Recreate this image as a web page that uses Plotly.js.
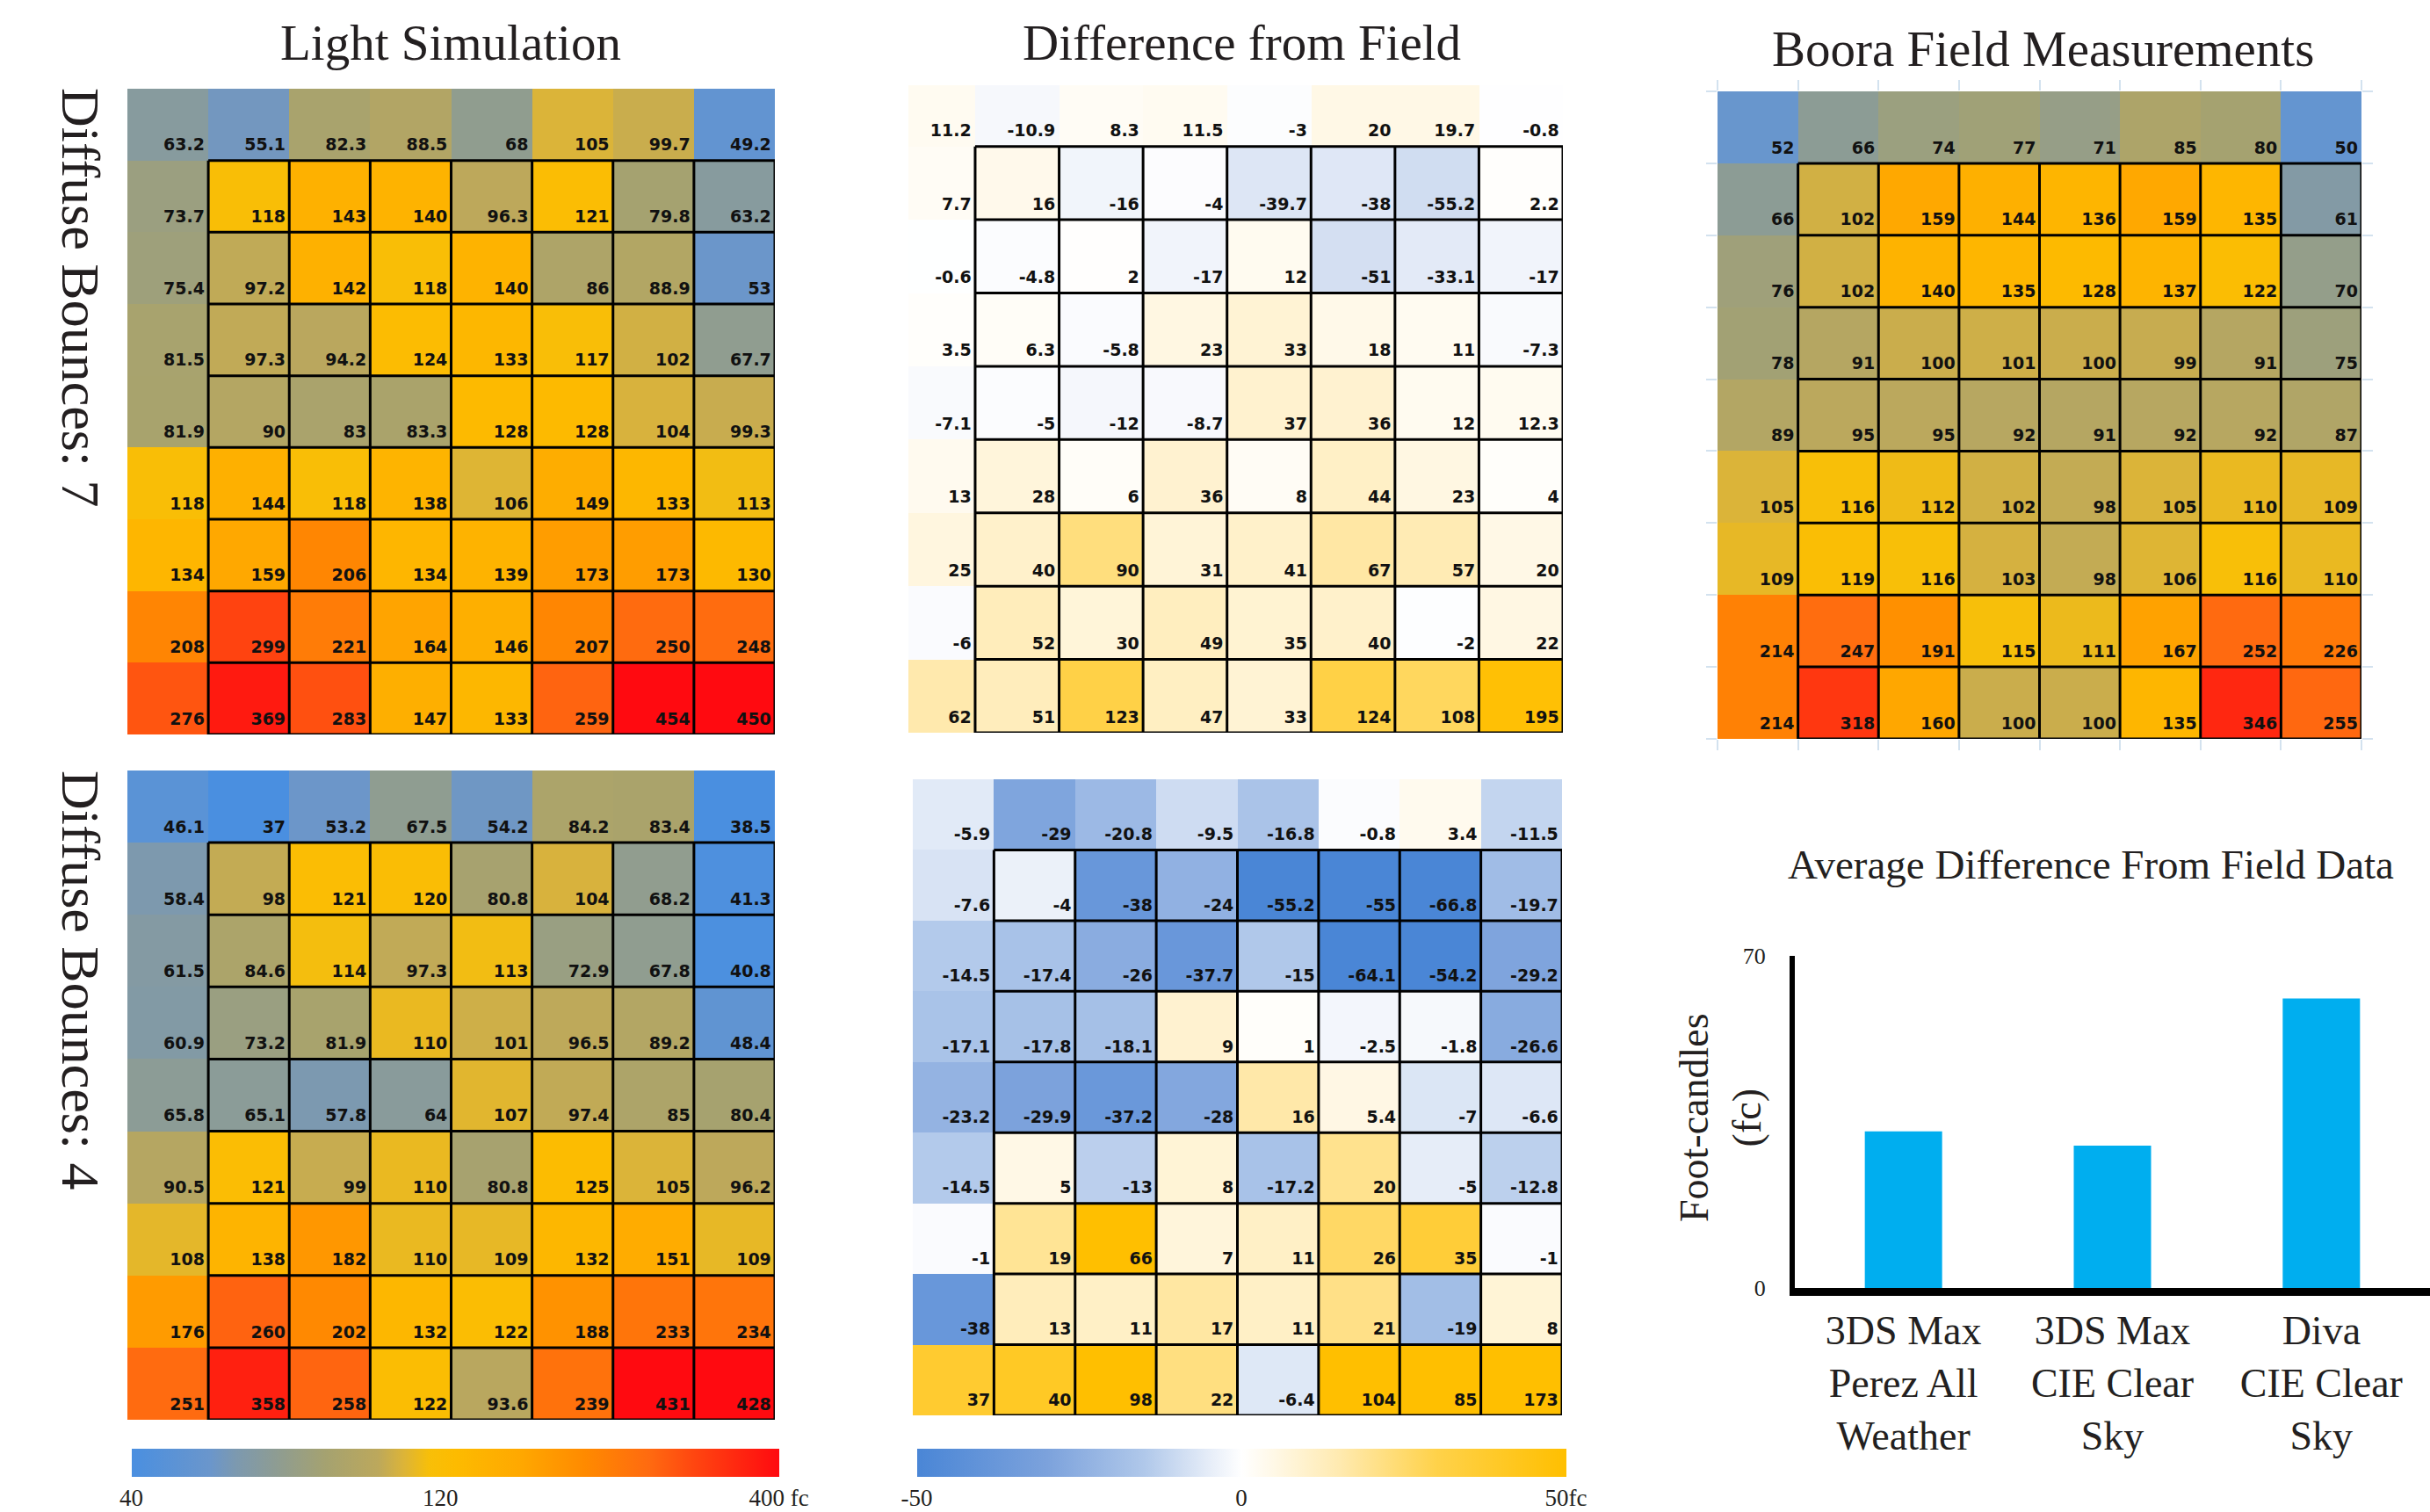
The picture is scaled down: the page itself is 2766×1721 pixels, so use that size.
<!DOCTYPE html>
<html><head><meta charset="utf-8">
<script src="https://cdn.plot.ly/plotly-3.0.1.min.js"></script>
<style>html,body{margin:0;padding:0;background:#fff}</style>
</head><body><div id="chart" style="width:2766px;height:1721px"></div>
<script>
// ---------------- DATA ----------------
const simBounces7 = [
  [63.2,55.1,82.3,88.5,68,105,99.7,49.2],
  [73.7,118,143,140,96.3,121,79.8,63.2],
  [75.4,97.2,142,118,140,86,88.9,53],
  [81.5,97.3,94.2,124,133,117,102,67.7],
  [81.9,90,83,83.3,128,128,104,99.3],
  [118,144,118,138,106,149,133,113],
  [134,159,206,134,139,173,173,130],
  [208,299,221,164,146,207,250,248],
  [276,369,283,147,133,259,454,450]
];
const diffBounces7 = [
  [11.2,-10.9,8.3,11.5,-3,20,19.7,-0.8],
  [7.7,16,-16,-4,-39.7,-38,-55.2,2.2],
  [-0.6,-4.8,2,-17,12,-51,-33.1,-17],
  [3.5,6.3,-5.8,23,33,18,11,-7.3],
  [-7.1,-5,-12,-8.7,37,36,12,12.3],
  [13,28,6,36,8,44,23,4],
  [25,40,90,31,41,67,57,20],
  [-6,52,30,49,35,40,-2,22],
  [62,51,123,47,33,124,108,195]
];
const fieldBoora = [
  [52,66,74,77,71,85,80,50],
  [66,102,159,144,136,159,135,61],
  [76,102,140,135,128,137,122,70],
  [78,91,100,101,100,99,91,75],
  [89,95,95,92,91,92,92,87],
  [105,116,112,102,98,105,110,109],
  [109,119,116,103,98,106,116,110],
  [214,247,191,115,111,167,252,226],
  [214,318,160,100,100,135,346,255]
];
const simBounces4 = [
  [46.1,37,53.2,67.5,54.2,84.2,83.4,38.5],
  [58.4,98,121,120,80.8,104,68.2,41.3],
  [61.5,84.6,114,97.3,113,72.9,67.8,40.8],
  [60.9,73.2,81.9,110,101,96.5,89.2,48.4],
  [65.8,65.1,57.8,64,107,97.4,85,80.4],
  [90.5,121,99,110,80.8,125,105,96.2],
  [108,138,182,110,109,132,151,109],
  [176,260,202,132,122,188,233,234],
  [251,358,258,122,93.6,239,431,428]
];
const diffBounces4 = [
  [-5.9,-29,-20.8,-9.5,-16.8,-0.8,3.4,-11.5],
  [-7.6,-4,-38,-24,-55.2,-55,-66.8,-19.7],
  [-14.5,-17.4,-26,-37.7,-15,-64.1,-54.2,-29.2],
  [-17.1,-17.8,-18.1,9,1,-2.5,-1.8,-26.6],
  [-23.2,-29.9,-37.2,-28,16,5.4,-7,-6.6],
  [-14.5,5,-13,8,-17.2,20,-5,-12.8],
  [-1,19,66,7,11,26,35,-1],
  [-38,13,11,17,11,21,-19,8],
  [37,40,98,22,-6.4,104,85,173]
];
const barCategories = ['3DS Max<br>Perez All<br>Weather','3DS Max<br>CIE Clear<br>Sky','Diva<br>CIE Clear<br>Sky'];
const barValues = [33, 30, 61];
const barTickVals = [0, 70];
const lightTickVals = [40, 120, 400];
const lightTickText = ['40', '120', '400 fc'];
const diffTickVals = [-50, 0, 50];
const diffTickText = ['-50', '0', '50fc'];

// ---------------- STYLE ----------------
const serif = 'Liberation Serif, Times New Roman, serif';
const ink = '#231f20';
const lightScale = [
  [0,'#4a8fe0'],[0.12,'#6a96cc'],[0.16,'#7c99b0'],[0.22,'#8d9c94'],[0.3,'#a5a270'],
  [0.38,'#bca85c'],[0.42,'#dcb438'],[0.46,'#f8bf08'],[0.5,'#fdbb00'],[0.6,'#ffa800'],
  [0.7,'#ff8a00'],[0.8,'#ff6a10'],[0.87,'#ff4510'],[1,'#ff0a10']
];
const diffScaleBottom = [
  [0,'#4a86d6'],[0.2,'#7ca2dc'],[0.35,'#b0c8ea'],[0.45,'#e6edf8'],[0.5,'#ffffff'],
  [0.55,'#fff8e6'],[0.65,'#ffeab0'],[0.8,'#ffd24a'],[1,'#ffbf00']
];
const diffScaleTop = [
  [0,'#6f9ede'],[0.2,'#a6c0e8'],[0.35,'#ccdaf0'],[0.45,'#eef2fa'],[0.5,'#ffffff'],
  [0.55,'#fff8e6'],[0.65,'#ffeab0'],[0.8,'#ffd24a'],[1,'#ffbf00']
];

const W = 2766, H = 1721;
const px = v => v / W;
const py = v => 1 - v / H;

const log10 = v => Math.log(v) / Math.LN10;
const nRows = simBounces7.length, nCols = simBounces7[0].length;

const traces = [];
const shapes = [];

function addHeat(z, idx, colorOpts, colorbar) {
  const xa = idx === 1 ? 'x' : 'x' + idx;
  const ya = idx === 1 ? 'y' : 'y' + idx;
  const hm = Object.assign({
    type: 'heatmap', z: colorOpts.transform ? z.map(r => r.map(colorOpts.transform)) : z,
    xaxis: xa, yaxis: ya, colorscale: colorOpts.scale, zmin: colorOpts.zmin, zmax: colorOpts.zmax,
    showscale: !!colorbar, hoverinfo: 'skip', xgap: 0, ygap: 0
  }, colorbar ? {colorbar: colorbar} : {});
  traces.push(hm);
  const tx = [], ty = [], tt = [];
  for (let i = 0; i < z.length; i++) {
    for (let j = 0; j < z[i].length; j++) {
      tx.push(j + 0.455); ty.push(i + 0.42); tt.push(String(z[i][j]));
    }
  }
  traces.push({
    type: 'scatter', mode: 'text', x: tx, y: ty, text: tt, xaxis: xa, yaxis: ya,
    textposition: 'top left', marker: {size: 1},
    textfont: {family: 'DejaVu Sans, Verdana, sans-serif', size: 19, color: '#111', weight: 'bold'},
    hoverinfo: 'skip', showlegend: false, cliponaxis: false
  });
  for (let k = 0; k < nCols; k++) {
    shapes.push({type: 'line', xref: xa, yref: ya, x0: k + 0.5, x1: k + 0.5, y0: 0.5, y1: nRows - 0.5,
      line: {color: '#000', width: 3}});
  }
  for (let k = 0; k < nRows; k++) {
    shapes.push({type: 'line', xref: xa, yref: ya, x0: 0.5, x1: nCols - 0.5, y0: k + 0.5, y1: k + 0.5,
      line: {color: '#000', width: 3}});
  }
}

const lightOpts = {scale: lightScale, zmin: log10(40), zmax: log10(400), transform: log10};
addHeat(simBounces7, 1, lightOpts, {
  orientation: 'h', x: px(518), xanchor: 'center', y: py(1649), yanchor: 'top',
  len: px(737), lenmode: 'fraction', thickness: 32, thicknessmode: 'pixels',
  outlinewidth: 0, xpad: 0, ypad: 0, ticks: '',
  tickvals: lightTickVals.map(log10), ticktext: lightTickText,
  tickfont: {family: serif, size: 27, color: ink}
});
addHeat(diffBounces7, 2, {scale: diffScaleTop, zmin: -200, zmax: 200}, null);
addHeat(fieldBoora, 3, lightOpts, null);
addHeat(simBounces4, 4, lightOpts, null);
addHeat(diffBounces4, 5, {scale: diffScaleBottom, zmin: -50, zmax: 50}, {
  orientation: 'h', x: px(1413), xanchor: 'center', y: py(1649), yanchor: 'top',
  len: px(739), lenmode: 'fraction', thickness: 32, thicknessmode: 'pixels',
  outlinewidth: 0, xpad: 0, ypad: 0, ticks: '',
  tickvals: diffTickVals, ticktext: diffTickText,
  tickfont: {family: serif, size: 27, color: ink}
});

traces.push({
  type: 'bar', x: barCategories, y: barValues, xaxis: 'x6', yaxis: 'y6',
  marker: {color: '#00aeef'}, width: 0.37, hoverinfo: 'skip', showlegend: false
});

function heatAxes(x0, x1, y0, y1, anchorX, anchorY, xr, yr) {
  const base = {showgrid: false, zeroline: false, showticklabels: false, ticks: '', fixedrange: true, showline: false};
  const xa = Object.assign({domain: [px(x0), px(x1)], range: xr || [-0.5, nCols - 0.5], anchor: anchorY}, base);
  const ya = Object.assign({domain: [py(y1), py(y0)], range: yr || [nRows - 0.5, -0.5], anchor: anchorX}, base);
  return [xa, ya];
}
const [xa1, ya1] = heatAxes(145, 882, 101, 836, 'x', 'y');
const [xa2, ya2] = heatAxes(1034, 1779, 97, 834, 'x2', 'y2', [-0.295, nCols - 0.5], [nRows - 0.5, -0.335]);
const [xa4, ya4] = heatAxes(145, 882, 877, 1616, 'x4', 'y4');
const [xa5, ya5] = heatAxes(1039, 1778, 887, 1611, 'x5', 'y5');
const [xa3, ya3] = heatAxes(1955, 2688, 104, 841, 'x3', 'y3');
const edgeTicks = n => Array.from({length: n + 1}, (_, k) => k - 0.5);
Object.assign(xa3, {tickvals: edgeTicks(nCols), ticks: 'outside', ticklen: 12, tickwidth: 2, tickcolor: '#d3e2ef', mirror: 'ticks'});
Object.assign(ya3, {tickvals: edgeTicks(nRows), ticks: 'outside', ticklen: 12, tickwidth: 2, tickcolor: '#d3e2ef', mirror: 'ticks'});

const annotations = [
  {text: 'Light Simulation', x: px(513), y: py(48)},
  {text: 'Difference from Field', x: px(1413), y: py(48)},
  {text: 'Boora Field Measurements', x: px(2325), y: py(56)},
  {text: 'Average Difference From Field Data', x: px(2380), y: py(984), size: 47},
  {text: 'Diffuse Bounces: 7', x: px(92), y: py(339), size: 62, textangle: 90},
  {text: 'Diffuse Bounces: 4', x: px(92), y: py(1116), size: 62, textangle: 90},
  {text: 'Foot-candles<br>(fc)', x: px(1958), y: py(1272), size: 46, textangle: -90}
].map(a => ({
  text: a.text, x: a.x, y: a.y, xref: 'paper', yref: 'paper', xanchor: 'center', yanchor: 'middle',
  showarrow: false, textangle: a.textangle || 0,
  font: {family: serif, size: a.size || 57, color: ink}
}));

const layout = {
  width: W, height: H, margin: {l: 0, r: 0, t: 0, b: 0},
  paper_bgcolor: '#fff', plot_bgcolor: 'rgba(0,0,0,0)', showlegend: false,
  xaxis: xa1, yaxis: ya1, xaxis2: xa2, yaxis2: ya2, xaxis3: xa3, yaxis3: ya3,
  xaxis4: xa4, yaxis4: ya4, xaxis5: xa5, yaxis5: ya5,
  xaxis6: {domain: [px(2043), 1], anchor: 'y6', range: [-0.52, 2.52], showline: true, linewidth: 9,
    linecolor: '#000', ticks: '', showgrid: false, zeroline: false, fixedrange: true,
    tickfont: {family: serif, size: 46, color: ink}},
  yaxis6: {domain: [py(1466), py(1088)], anchor: 'x6', range: [0, 70], tickvals: barTickVals,
    showline: true, linewidth: 6, linecolor: '#000', ticks: '', showgrid: false, zeroline: false,
    fixedrange: true, ticklabelstandoff: 22, tickfont: {family: serif, size: 26, color: ink}},
  shapes: shapes, annotations: annotations
};

Plotly.newPlot('chart', traces, layout, {staticPlot: true, displayModeBar: false});
</script></body></html>
